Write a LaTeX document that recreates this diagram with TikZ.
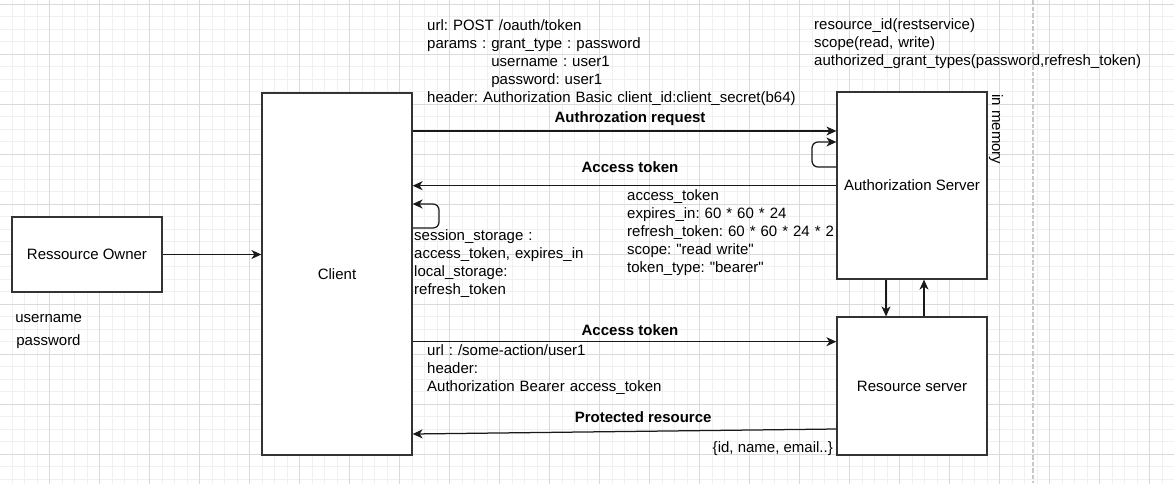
\documentclass[tikz,border=0pt]{standalone}
\usepackage{fontspec}
\setmainfont{Liberation Sans}
\usetikzlibrary{arrows.meta}
\definecolor{gridminor}{HTML}{F0F0F0}
\definecolor{gridmajor}{HTML}{DADADA}
\definecolor{gridsep}{HTML}{C8C8C8}
\definecolor{linegray}{HTML}{333333}
\frenchspacing
\tikzset{
  box/.style={draw=linegray, line width=1.25pt, fill=white, minimum width=150pt, inner sep=0pt},
  flow/.style={draw=black!90, line width=1.25pt, -{Stealth[length=10pt,width=9pt,inset=3pt]}},
  txt/.style={inner sep=0pt, text width=420pt, align=left, anchor=base west},
  lbl/.style={font=\fontsize{15}{18}\selectfont\bfseries, inner sep=0pt, anchor=base},
}

\begin{document}
\begin{tikzpicture}[x=1pt, y=-1pt, font=\fontsize{15}{18}\selectfont]
    \useasboundingbox (0,0) rectangle (1174,483);

    % Cuadricula
    \begin{scope}[shift={(-0.5,4.3)}]
      \draw[gridminor, line width=1pt] (-50,550) grid[step=12.5pt] (1250,-50);
      \draw[gridmajor, line width=1pt] (-50,550) grid[step=50pt] (1250,-50);
    \end{scope}
    \draw[gridsep, line width=1.8pt, dash pattern=on 4.5pt off 2pt] (1033,0) -- (1033,483);

    % Cajas
    \node[box, minimum height=75pt] (owner) at (87,254.5) {Ressource Owner};
    \node[box, minimum height=362pt] (client) at (337,274) {Client};
    \node[box, minimum height=187pt] (auth) at (912,185.5) {Authorization Server};
    \node[box, minimum height=138pt] (resource) at (912,386) {Resource server};
    \node[inner sep=0pt, rotate=-90] (memory) at (996,129.5) {in memory};

    % Flechas
    \draw[flow] (owner) -- (client.west |- owner);
    \draw[flow] (client.east |- 0,131) -- (auth.west |- 0,131)
      node[lbl, pos=0.513, yshift=9pt] {Authrozation request};
    \draw[flow, rounded corners=6pt] (auth.west |- 0,167) -| (812,155) |- (auth.west |- 0,142);
    \draw[flow] (auth.west |- 0,185.7) -- (client.east |- 0,185.7)
      node[lbl, pos=0.487, yshift=13.5pt] {Access token};
    \draw[flow, rounded corners=6pt] (client.east |- 0,228) -| (439,216) |- (client.east |- 0,204);
    \draw[flow] (client.east |- 0,341.7) -- (resource.west |- 0,341.7)
      node[lbl, pos=0.513, yshift=6.2pt] {Access token};
    \draw[flow] (resource.west |- 0,429) -- (client.east |- 0,434)
      node[lbl, pos=0.456, yshift=9pt] {Protected resource};
    \draw[flow] (auth.south -| 886,0) -- (resource.north -| 886,0);
    \draw[flow] (resource.north -| 924,0) -- (auth.south -| 924,0);

    % Textos
    \node[txt] (reqinfo) at (427,30.5) {url: POST /oauth/token\\
      params : grant\_type : password\\
      \phantom{params : }username : user1\\
      \phantom{params : }password: user1\\
      header: Authorization Basic client\_id:client\_secret(b64)};
    \node[txt] (scopeinfo) at (814,29.5) {resource\_id(restservice)\\
      scope(read, write)\\
      authorized\_grant\_types(password,refresh\_token)};
    \node[txt] (tokeninfo) at (627,200.5) {access\_token\\
      expires\_in: 60 * 60 * 24\\
      refresh\_token: 60 * 60 * 24 * 2\\
      scope: \textquotedbl read write\textquotedbl\\
      token\_type: \textquotedbl bearer\textquotedbl};
    \node[txt] (storageinfo) at (414,240) {session\_storage :\\
      access\_token, expires\_in\\
      local\_storage:\\
      refresh\_token};
    \node[txt] (actioninfo) at (427,355.5) {url : /some-action/user1\\
      header:\\
      Authorization Bearer access\_token};
    \node[inner sep=0pt, anchor=base east] (resultinfo) at (833,452.5) {\{id, name, email..\}};
    \node[inner sep=0pt, anchor=base] (userinfo) at (48.7,322.7) {username};
    \node[inner sep=0pt, anchor=base] (passinfo) at (48.5,345.5) {password};
\end{tikzpicture}
\end{document}
